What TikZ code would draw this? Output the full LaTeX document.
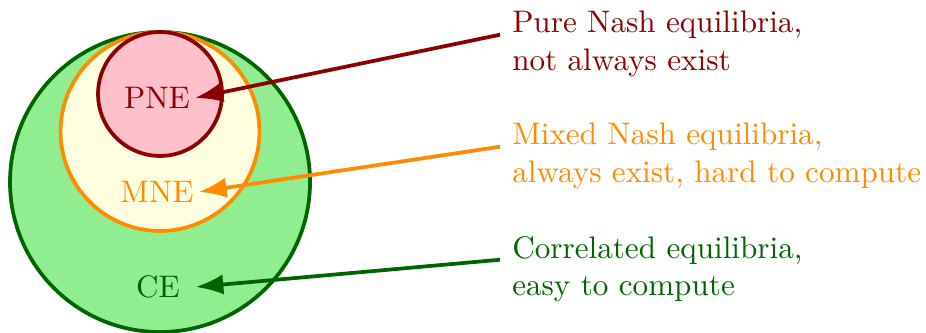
\documentclass[tikz,border=0pt]{standalone}
\usepackage{xcolor}
\usepackage{tikz}
\usetikzlibrary{arrows.meta, positioning}

\definecolor{pnered}{HTML}{8B0000}
\definecolor{pnefill}{HTML}{FFC0CB}
\definecolor{mneorange}{HTML}{FF8C00}
\definecolor{mnefill}{HTML}{FFFFE0}
\definecolor{cegreen}{HTML}{006400}
\definecolor{cefill}{HTML}{90EE90}

\begin{document}
\begin{tikzpicture}[line width=1.2pt,
	setlabel/.style={inner sep=1pt, minimum width=0.8cm},
	settext/.style={anchor=west, align=left},
	setarrow/.style={-{Latex[length=9pt, width=6.5pt]}}]
	\useasboundingbox (0, 0) rectangle (10.445, 3.745);
	% Sets:
	\draw[cegreen, fill=cefill] (1.805, 1.692) circle (1.692);
	\draw[mneorange, fill=mnefill] (1.805, 2.262) circle (1.122);
	\draw[pnered, fill=pnefill] (1.805, 2.685) circle (0.699);
	\node[setlabel, text=pnered](N1) at (1.771, 2.64){PNE};
	\node[setlabel, text=mneorange](N2) at (1.771, 1.58){MNE};
	\node[setlabel, text=cegreen](N3) at (1.782, 0.508){CE};
	% Notes:
	\node[settext, text=pnered](T1) at (5.64, 3.248){Pure Nash equilibria,\\not always exist};
	\node[settext, text=mneorange](T2) at (5.64, 1.985){Mixed Nash equilibria,\\always exist, hard to compute};
	\node[settext, text=cegreen](T3) at (5.64, 0.71){Correlated equilibria,\\easy to compute};
	% Arrows:
	\draw[setarrow, pnered] ([yshift=3pt]T1.west) -- (N1.east);
	\draw[setarrow, mneorange] ([yshift=3pt]T2.west) -- (N2.east);
	\draw[setarrow, cegreen] ([yshift=3pt]T3.west) -- (N3.east);
\end{tikzpicture}
\end{document}
